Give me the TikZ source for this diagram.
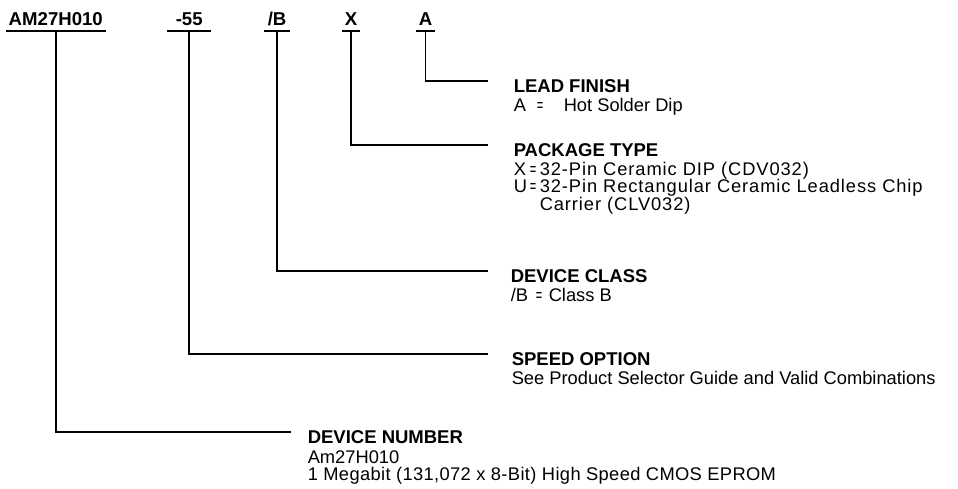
\documentclass[tikz,border=0pt]{standalone}
\usepackage{graphicx}
\usepackage{fontspec}
\setmainfont{Liberation Sans}
\newcommand{\narroweq}{\scalebox{0.6}[1]{=}}

\begin{document}
\begin{tikzpicture}[x = 1pt, y = -1pt, line width = 1.5pt,
                      code/.style = {font = \fontsize{18.6}{20}\selectfont\bfseries, anchor = base west,
                                     inner xsep = 2pt, inner ysep = 5pt, text height = 13pt, text depth = 0pt},
                      head/.style = {font = \fontsize{18.5}{17.5}\selectfont\bfseries, anchor = base west,
                                     inner sep = 0pt},
                      info/.style = {font = \fontsize{18.3}{17.5}\selectfont, anchor = base west,
                                     align = left, inner sep = 0pt}]
    \useasboundingbox (0, 0) rectangle (958, 488);

    % part number fields
    \node [code] (dev) at (6, 25){AM27H010};
    \node [code, inner xsep = 8pt] (spd) at (167, 25){-55};
    \node [code, inner xsep = 3pt] (cls) at (264, 25){/B};
    \node [code] (pkg) at (342, 25){X};
    \node [code] (lead) at (416, 25){A};
    \draw (dev.south west) -- (dev.south east);
    \draw (spd.south west) -- (spd.south east);
    \draw (cls.south west) -- (cls.south east);
    \draw (pkg.south west) -- (pkg.south east);
    \draw (lead.south west) -- (lead.south east);

    % headings
    \node [head] (leadhd) at (513, 92){LEAD FINISH};
    \node [head] (pkghd) at (513, 156){PACKAGE TYPE};
    \node [head] (clshd) at (510, 282){DEVICE CLASS};
    \node [head] (spdhd) at (511, 365){SPEED OPTION};
    \node [head] (devhd) at (307, 443){DEVICE NUMBER};

    % explanations (placed at the baseline of their last line)
    \node [info] (leadtxt) at (513, 111){\makebox[23pt][l]{A}\makebox[27pt][l]{\narroweq}Hot Solder Dip};
    \node [info, font = \fontsize{18.3}{17.5}\selectfont\addfontfeature{LetterSpace = 5}] (pkgtxt) at (513, 210){%
        \makebox[16pt][l]{X}\makebox[10pt][l]{\narroweq}32-Pin Ceramic DIP (CDV032)\\
        \makebox[16pt][l]{U}\makebox[10pt][l]{\narroweq}32-Pin Rectangular Ceramic Leadless Chip\\
        \hspace*{26pt}Carrier (CLV032)};
    \node [info] (clstxt) at (510, 301){\makebox[25pt][l]{/B}\makebox[13pt][l]{\narroweq}Class B};
    \node [info] (spdtxt) at (511, 384){See Product Selector Guide and Valid Combinations};
    \node [info] (devtxt) at (307, 480.5){Am27H010\\
        {\addfontfeature{LetterSpace = 2}1 Megabit (131,072 x 8-Bit) High Speed CMOS EPROM}};

    % leaders
    \draw (lead.south) |- ([shift = {(-25, -11)}]leadhd.base west);
    \draw (pkg.south) |- ([shift = {(-25, -11)}]pkghd.base west);
    \draw (cls.south) |- ([shift = {(-22, -11)}]clshd.base west);
    \draw (spd.south) |- ([shift = {(-23, -11)}]spdhd.base west);
    \draw (dev.south) |- ([shift = {(-16, -11)}]devhd.base west);
\end{tikzpicture}
\end{document}
